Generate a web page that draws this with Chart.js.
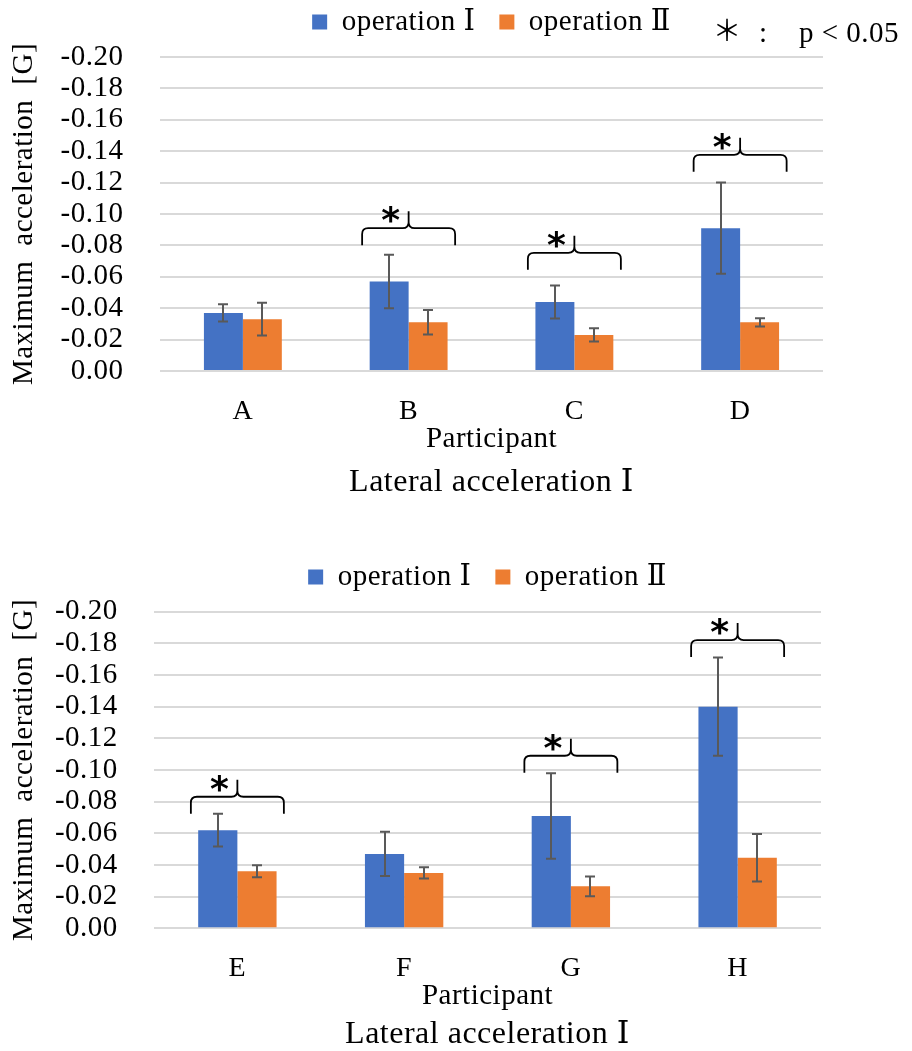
<!DOCTYPE html>
<html>
<head>
<meta charset="utf-8">
<script src="https://cdn.jsdelivr.net/npm/chart.js"></script>
<style>
  html, body { margin: 0; padding: 0; background: #fff; }
  #wrap { position: relative; width: 912px; height: 1051px; overflow: hidden; }
  .panel { position: absolute; left: 0; width: 912px; }
  #p1 { top: 0; height: 515px; }
  #p2 { top: 515px; height: 536px; }
  canvas { display: block; }
</style>
</head>
<body>
<div id="wrap">
  <div class="panel" id="p1"><canvas id="c1"></canvas></div>
  <div class="panel" id="p2"><canvas id="c2"></canvas></div>
</div>
<script>
// ---- data ----
const seriesNames = ['operation Ⅰ', 'operation Ⅱ'];

const participantsTop = ['A', 'B', 'C', 'D'];
const op1Top = [-0.037, -0.057, -0.044, -0.091];
const op1TopErr = [0.0055, 0.017, 0.0105, 0.029];
const op2Top = [-0.033, -0.031, -0.023, -0.031];
const op2TopErr = [0.0104, 0.0078, 0.0042, 0.0026];
const sigTop = [null, -0.091, -0.0753, -0.1377];   // level of the significance brace

const participantsBottom = ['E', 'F', 'G', 'H'];
const op1Bottom = [-0.062, -0.047, -0.071, -0.140];
const op1BottomErr = [0.0103, 0.014, 0.027, 0.031];
const op2Bottom = [-0.036, -0.035, -0.0265, -0.0445];
const op2BottomErr = [0.0038, 0.0035, 0.0062, 0.015];
const sigBottom = [-0.0831, null, -0.109, -0.1821];

const yMin = -0.20, yMax = 0.00, yStep = 0.02;
const yTitle = 'Maximum\u2002acceleration\u2002[G]';
const xTitle = 'Participant';
const chartTitle = 'Lateral acceleration Ⅰ';
const noteMark = '＊', noteSep = ':', noteText = 'p < 0.05';

// ---- styling ----
const SERIF = '"Liberation Serif", "DejaVu Serif", serif';
const BLUE = '#4472C4', ORANGE = '#ED7D31';
const SPACING = '0.5px';
Chart.defaults.font.family = SERIF;
Chart.defaults.color = '#000';

// Times-style text on the figure is set a little loose
const textSpacing = {
  id: 'textSpacing',
  beforeUpdate(chart) { chart.ctx.letterSpacing = SPACING; },
  beforeLayout(chart) { chart.ctx.letterSpacing = SPACING; },
  beforeDraw(chart) { chart.ctx.letterSpacing = SPACING; }
};

function placeGlyph(ctx, text, cx, cy) {
  const m = ctx.measureText(text);
  const x = cx - (m.actualBoundingBoxRight - m.actualBoundingBoxLeft) / 2;
  const y = cy + (m.actualBoundingBoxAscent - m.actualBoundingBoxDescent) / 2;
  ctx.fillText(text, x, y);
}

// mean +/- SD whiskers on every bar
const errorBars = {
  id: 'errorBars',
  afterDatasetsDraw(chart) {
    const { ctx } = chart;
    const y = chart.scales.y;
    ctx.save();
    ctx.strokeStyle = '#595959';
    ctx.lineWidth = 2;
    chart.data.datasets.forEach((ds, i) => {
      chart.getDatasetMeta(i).data.forEach((bar, j) => {
        const v = ds.data[j], e = ds.errorBars[j];
        const y1 = y.getPixelForValue(v - e), y2 = y.getPixelForValue(v + e);
        const x = Math.round(bar.x);
        ctx.beginPath();
        ctx.moveTo(x, y1); ctx.lineTo(x, y2);
        ctx.moveTo(x - 5, y1); ctx.lineTo(x + 5, y1);
        ctx.moveTo(x - 5, y2); ctx.lineTo(x + 5, y2);
        ctx.stroke();
      });
    });
    ctx.restore();
  }
};

// curly brace with an asterisk above the pair of bars that differ (p < 0.05)
function sigBrackets(levels) {
  return {
    id: 'sigBrackets',
    afterDatasetsDraw(chart) {
      const { ctx } = chart;
      const x = chart.scales.x, y = chart.scales.y;
      const half = 46.5, drop = 17, tip = 17, r = 6;
      ctx.save();
      ctx.strokeStyle = '#000';
      ctx.lineWidth = 1.8;
      ctx.fillStyle = '#000';
      ctx.letterSpacing = '0px';
      ctx.font = 'bold 36px "DejaVu Sans"';
      ctx.textAlign = 'left';
      ctx.textBaseline = 'alphabetic';
      levels.forEach((lv, j) => {
        if (lv === null) return;
        const cx = x.getPixelForValue(j);
        const yy = y.getPixelForValue(lv);
        const L = cx - half, R = cx + half;
        ctx.beginPath();
        ctx.moveTo(L, yy + drop);
        ctx.lineTo(L, yy + r);
        ctx.quadraticCurveTo(L, yy, L + r, yy);
        ctx.lineTo(cx - r, yy);
        ctx.quadraticCurveTo(cx, yy, cx, yy - r);
        ctx.lineTo(cx, yy - tip);
        ctx.moveTo(cx, yy - r);
        ctx.quadraticCurveTo(cx, yy, cx + r, yy);
        ctx.lineTo(R - r, yy);
        ctx.quadraticCurveTo(R, yy, R, yy + r);
        ctx.lineTo(R, yy + drop);
        ctx.stroke();
        placeGlyph(ctx, '*', cx - 18, yy - 13.5);
      });
      ctx.restore();
    }
  };
}

// significance key at the top right
const noteLabel = {
  id: 'noteLabel',
  afterDraw(chart) {
    const { ctx } = chart;
    ctx.save();
    ctx.fillStyle = '#000';
    ctx.textAlign = 'left';
    ctx.textBaseline = 'alphabetic';
    ctx.letterSpacing = '0px';
    ctx.font = '29px "Noto Sans CJK JP"';
    placeGlyph(ctx, noteMark, 727, 29);
    ctx.font = '29px ' + SERIF;
    placeGlyph(ctx, noteSep, 763, 35);
    ctx.letterSpacing = SPACING;
    ctx.fillText(noteText, 799, 42);
    ctx.restore();
  }
};

const axisFont = { size: 29 };
const fmt = v => (Math.abs(v) < 1e-9 ? 0 : v).toFixed(2);

function buildChart(id, s) {
  const plugins = [textSpacing, errorBars, sigBrackets(s.sig)];
  if (s.note) plugins.push(noteLabel);
  return new Chart(document.getElementById(id), {
    type: 'bar',
    data: {
      labels: s.labels,
      datasets: [
        { label: seriesNames[0], data: s.op1, errorBars: s.op1Err, backgroundColor: BLUE,
          categoryPercentage: 0.47, barPercentage: 1 },
        { label: seriesNames[1], data: s.op2, errorBars: s.op2Err, backgroundColor: ORANGE,
          categoryPercentage: 0.47, barPercentage: 1 }
      ]
    },
    options: {
      responsive: true,
      maintainAspectRatio: false,
      animation: false,
      events: [],
      layout: { padding: s.padding },
      scales: {
        x: {
          grid: { display: false },
          border: { display: false },
          ticks: { padding: s.xTickPad, font: { size: 28 }, color: '#000', maxRotation: 0 },
          title: { display: true, text: xTitle, font: axisFont, color: '#000',
                   padding: { top: 0, bottom: s.xTitlePad } },
          afterFit: a => { a.height = s.xAxisHeight; }
        },
        y: {
          reverse: true,
          min: yMin, max: yMax,
          ticks: { stepSize: yStep, autoSkip: false, padding: s.yTickPad, font: axisFont,
                   color: '#000', callback: v => fmt(v) },
          grid: { color: '#d9d9d9', lineWidth: 2, drawTicks: false },
          border: { display: false },
          title: { display: true, text: yTitle, font: axisFont, color: '#000',
                   padding: { top: 6.6, bottom: 0 } },
          afterFit: a => { a.width = s.yAxisWidth; }
        }
      },
      plugins: {
        legend: {
          position: 'top', fullSize: false, weight: 2500,
          labels: { boxWidth: 15, boxHeight: 15, padding: 24, font: axisFont, color: '#000' }
        },
        subtitle: {   // gap between legend and plot
          display: true, text: '', position: 'top', padding: 0,
          font: { size: s.gap, lineHeight: 1 }
        },
        title: {
          display: true, text: chartTitle, position: 'bottom', fullSize: false,
          padding: 0, color: '#000', font: { size: 32, weight: 'normal', lineHeight: 1 }
        },
        tooltip: { enabled: false }
      }
    },
    plugins
  });
}

buildChart('c1', {
  labels: participantsTop, op1: op1Top, op1Err: op1TopErr, op2: op2Top, op2Err: op2TopErr,
  sig: sigTop, note: true,
  padding: { top: -16.5, left: 0, right: 89, bottom: 16.5 },
  gap: 10.5, yAxisWidth: 160, yTickPad: 36.5,
  xAxisHeight: 95.5, xTickPad: 15.5, xTitlePad: 10.1
});

buildChart('c2', {
  labels: participantsBottom, op1: op1Bottom, op1Err: op1BottomErr, op2: op2Bottom, op2Err: op2BottomErr,
  sig: sigBottom, note: false,
  padding: { top: 23.5, left: 0, right: 91, bottom: 0 },
  gap: 10.2, yAxisWidth: 154, yTickPad: 36.2,
  xAxisHeight: 90.7, xTickPad: 15.5, xTitlePad: 4.9
});
</script>
</body>
</html>
